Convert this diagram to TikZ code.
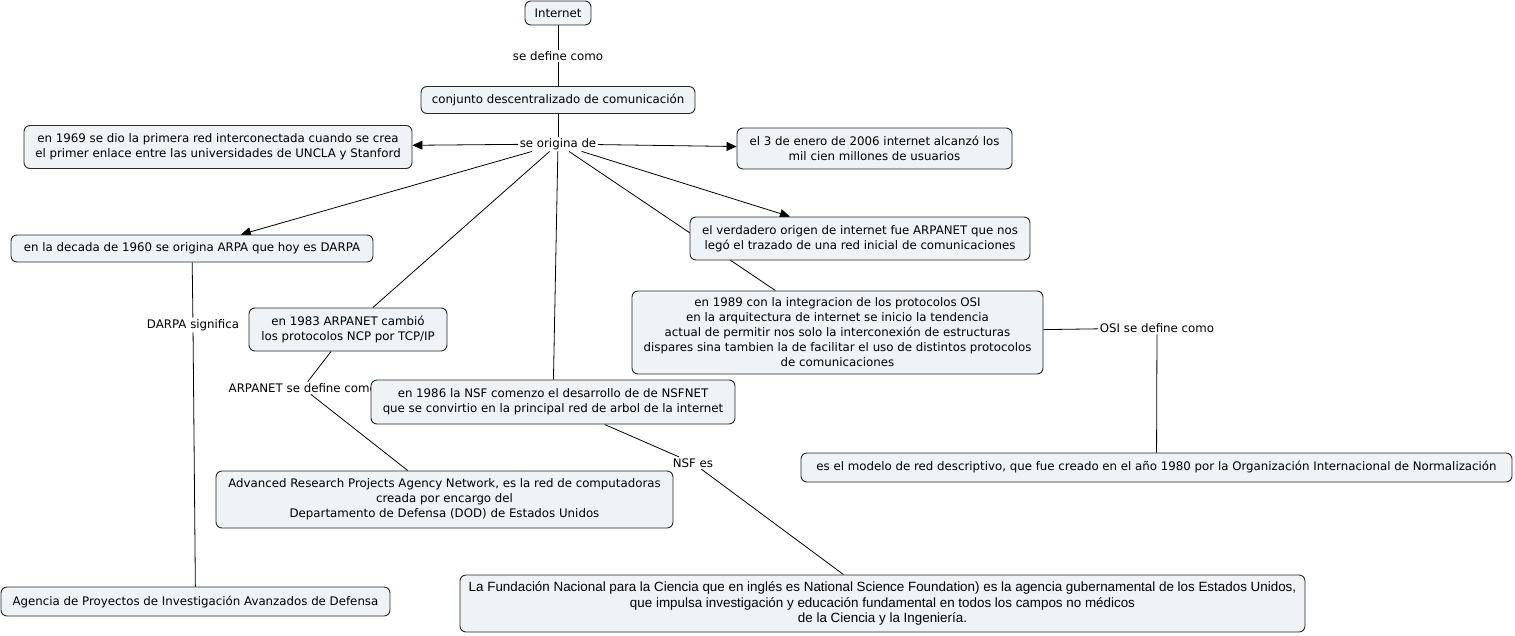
\documentclass[tikz,border=0pt]{standalone}
\usepackage{fontspec}
\setmainfont{DejaVu Sans}
\newfontfamily\nsffont{Liberation Sans}
\usetikzlibrary{arrows.meta,backgrounds}
\definecolor{cmapfill}{RGB}{237,243,246}
\definecolor{cmapline}{RGB}{40,40,40}
\tikzset{
  concept/.style={draw=cmapline,fill=cmapfill,line width=0.9pt,rounded corners=6pt,align=center,inner sep=0pt,font=\fontsize{11.8}{15}\selectfont},
  phrase/.style={inner sep=1.5pt,font=\fontsize{11.8}{15}\selectfont},
  link/.style={draw=black,line width=0.8pt},
  linkto/.style={link,-{Triangle[length=10pt,width=9pt]}}
}

\begin{document}
\begin{tikzpicture}[x=1pt,y=-1pt]
\useasboundingbox (0,0) rectangle (1515,635);
\node[concept,minimum width=66pt,minimum height=24pt] (internet) at (558,13) {Internet};
\node[phrase] (defcomo) at (558,56) {se define como};
\node[concept,minimum width=274pt,minimum height=27pt] (conjunto) at (558,100) {conjunto descentralizado de comunicación};
\node[phrase] (origen) at (558,144) {se origina de};
\node[concept,minimum width=388pt,minimum height=43pt] (red69) at (218,147) {en 1969 se dio la primera red interconectada cuando se crea\\el primer enlace entre las universidades de UNCLA y Stanford};
\node[concept,minimum width=275pt,minimum height=41pt] (enero06) at (874.5,148.5) {el 3 de enero de 2006 internet alcanzó los\\mil cien millones de usuarios};
\node[concept,minimum width=362pt,minimum height=27pt] (arpa60) at (192,248.5) {en la decada de 1960 se origina ARPA que hoy es DARPA};
\node[concept,minimum width=340pt,minimum height=43pt] (verdad) at (860,238.5) {el verdadero origen de internet fue ARPANET que nos\\legó el trazado de una red inicial de comunicaciones};
\node[concept,minimum width=198pt,minimum height=43pt] (tcp83) at (348,329.5) {en 1983 ARPANET cambió\\los protocolos NCP por TCP/IP};
\node[concept,minimum width=411pt,minimum height=83pt] (osi89) at (837.5,332.5) {en 1989 con la integracion de los protocolos OSI\\en la arquitectura de internet se inicio la tendencia\\actual de permitir nos solo la interconexión de estructuras\\dispares sina tambien la de facilitar el uso de distintos protocolos\\de comunicaciones};
\node[phrase] (darpasig) at (193,325) {DARPA significa};
\node[phrase,anchor=west] (arpadef) at (227,388) {ARPANET se define como};
\node[concept,minimum width=364pt,minimum height=44pt] (nsf86) at (553,402) {en 1986 la NSF comenzo el desarrollo de de NSFNET\\que se convirtio en la principal red de arbol de la internet};
\node[phrase] (nsfes) at (693,463) {NSF es};
\node[phrase] (osicomo) at (1157,328) {OSI se define como};
\node[concept,minimum width=457pt,minimum height=57pt] (arpanet) at (444.5,499.5) {Advanced Research Projects Agency Network, es la red de computadoras\\creada por encargo del\\Departamento de Defensa (DOD) de Estados Unidos};
\node[concept,minimum width=711pt,minimum height=29pt] (osidef) at (1156.5,467.5) {es el modelo de red descriptivo, que fue creado en el año 1980 por la Organización Internacional de Normalización};
\node[concept,minimum width=389pt,minimum height=29pt] (darpa) at (195.5,601.5) {Agencia de Proyectos de Investigación Avanzados de Defensa};
\node[concept,minimum width=845pt,minimum height=57pt,font=\nsffont\fontsize{13.4}{15.5}\selectfont] (nsfdef) at (882.5,603.5) {La Fundación Nacional para la Ciencia que en inglés es National Science Foundation) es la agencia gubernamental de los Estados Unidos,\\que impulsa investigación y educación fundamental en todos los campos no médicos\\de la Ciencia y la Ingeniería.};
\begin{scope}[on background layer]
\fill[white] (0,0) rectangle (1515,635);
\draw[link] (internet) -- (defcomo) -- (conjunto);
\draw[link] (conjunto) -- (origen);
\foreach \to in {red69,enero06,arpa60,verdad}
  \draw[linkto] (origen) -- (\to);
\foreach \to in {tcp83,nsf86,osi89}
  \draw[link] (origen) -- (\to);
\draw[link] (arpa60) -- (darpasig) -- (darpa);
\draw[link] (tcp83) -- (arpadef) -- (arpanet);
\draw[link] (nsf86) -- (nsfes) -- (nsfdef);
\draw[link] (osi89) -- (osicomo) -- (osidef);
\end{scope}
\end{tikzpicture}
\end{document}
